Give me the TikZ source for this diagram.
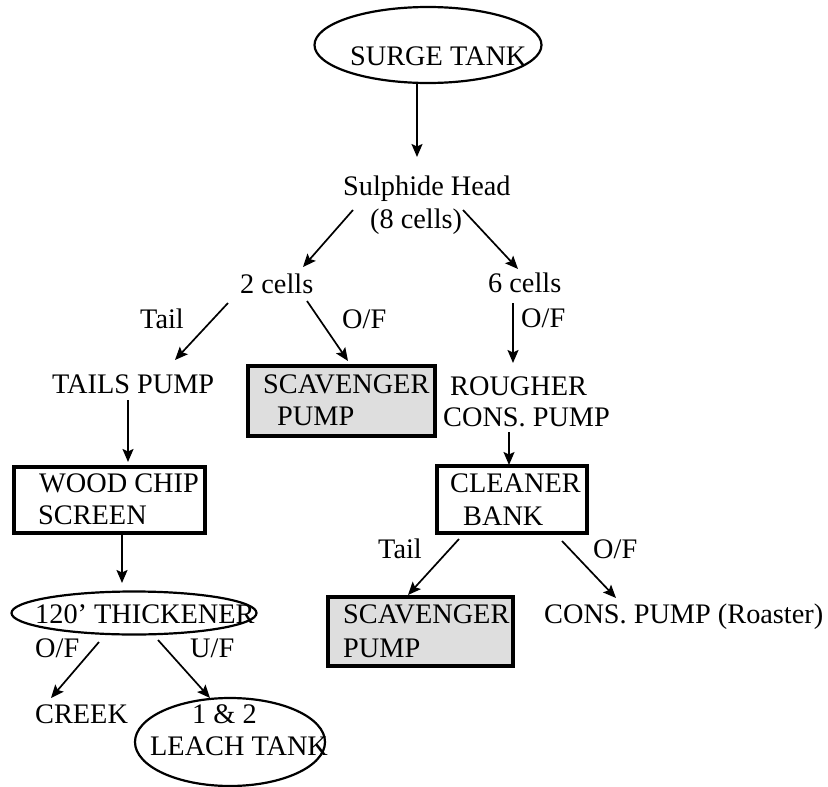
\documentclass[tikz,border=0pt]{standalone}
\usepackage{fontspec}
\setmainfont{Liberation Serif}
\usetikzlibrary{arrows.meta,shapes.geometric}
\begin{document}
\begin{tikzpicture}[x=1pt,y=-1pt,
  txt/.style={inner sep=0pt,anchor=base west,font=\fontsize{28.3}{32}\selectfont},
  box/.style={draw,line width=3.4pt,inner sep=0pt},
  grbox/.style={box,fill=black!13},
  oval/.style={draw,ellipse,line width=2.2pt,inner sep=0pt},
  arr/.style={line width=1.7pt,-{Stealth[length=13pt,width=11pt,inset=2.5pt]}}]
\useasboundingbox (0,0) rectangle (828,787);
% shapes
\node[oval,minimum width=227pt,minimum height=76pt] (surge) at (428,45) {};
\node[grbox,minimum width=187pt,minimum height=70pt] (scavA) at (341.5,401) {};
\node[box,minimum width=191pt,minimum height=66pt] (wood) at (109.5,500) {};
\node[box,minimum width=150pt,minimum height=67pt] (clean) at (512,499.5) {};
\node[grbox,minimum width=185pt,minimum height=69pt] (scavB) at (420.5,631.5) {};
\node[oval,minimum width=245pt,minimum height=43pt] (thick) at (134,613) {};
\node[oval,minimum width=190pt,minimum height=88pt] (leach) at (230,742) {};
% texts
\node[txt] (surget) at (350,65) {SURGE TANK};
\node[txt] (sh) at (343,195) {Sulphide Head};
\node[txt] (sh8) at (370,228) {(8 cells)};
\node[txt] (c2) at (240,293) {2 cells};
\node[txt] (c6) at (488,292) {6 cells};
\node[txt] (tailA) at (140,328) {Tail};
\node[txt] (ofA) at (342,328) {O/F};
\node[txt] (ofB) at (521,327) {O/F};
\node[txt] (tails) at (52,393) {TAILS PUMP};
\node[txt] (scavAa) at (263,393) {SCAVENGER};
\node[txt] (scavAb) at (277,425) {PUMP};
\node[txt] (rough) at (450,395) {ROUGHER};
\node[txt] (cons) at (443,426) {CONS. PUMP};
\node[txt] (wooda) at (39,492) {WOOD CHIP};
\node[txt] (woodb) at (38,524) {SCREEN};
\node[txt] (cleana) at (450,492) {CLEANER};
\node[txt] (cleanb) at (463,525) {BANK};
\node[txt] (tailB) at (378,558) {Tail};
\node[txt] (ofC) at (593,558) {O/F};
\node[txt] (scavBa) at (343,623) {SCAVENGER};
\node[txt] (scavBb) at (343,657) {PUMP};
\node[txt] (roast) at (544,623) {CONS. PUMP (Roaster)};
\node[txt] (thickt) at (35,623) {120’ THICKENER};
\node[txt] (ofD) at (35,657) {O/F};
\node[txt] (ufD) at (190,657) {U/F};
\node[txt] (creek) at (35,723) {CREEK};
\node[txt] (leacha) at (192,723) {1 \& 2};
\node[txt] (leachb) at (150,755) {LEACH TANK};
% connectors
\draw[arr] ([shift={(-11,38)}]surge.center) -- ([shift={(74,-38)}]sh.base west);
\draw[arr] ([shift={(-17,-18)}]sh8.base west) -- ([shift={(63,-26)}]c2.base west);
\draw[arr] ([shift={(93,-18)}]sh8.base west) -- ([shift={(30,-23)}]c6.base west);
\draw[arr] ([shift={(-12,10)}]c2.base west) -- ([shift={(123,-33)}]tails.base west);
\draw[arr] ([shift={(67,8)}]c2.base west) -- ([shift={(6.5,-40)}]scavA.center);
\draw[arr] ([shift={(25,11)}]c6.base west) -- ([shift={(63,-32)}]rough.base west);
\draw[arr] ([shift={(76,7)}]tails.base west) -- ([shift={(18.5,-38)}]wood.center);
\draw[arr] ([shift={(66,6)}]cons.base west) -- ([shift={(-3,-34.5)}]clean.center);
\draw[arr] ([shift={(12.5,33)}]wood.center) -- ([shift={(-12,-30)}]thick.center);
\draw[arr] ([shift={(-53,39.5)}]clean.center) -- ([shift={(-12.5,-36.5)}]scavB.center);
\draw[arr] ([shift={(50,41.5)}]clean.center) -- ([shift={(72,-25)}]roast.base west);
\draw[arr] ([shift={(-35,29)}]thick.center) -- ([shift={(16,-25)}]creek.base west);
\draw[arr] ([shift={(24,27)}]thick.center) -- ([shift={(-20,-44)}]leach.center);
\end{tikzpicture}
\end{document}
